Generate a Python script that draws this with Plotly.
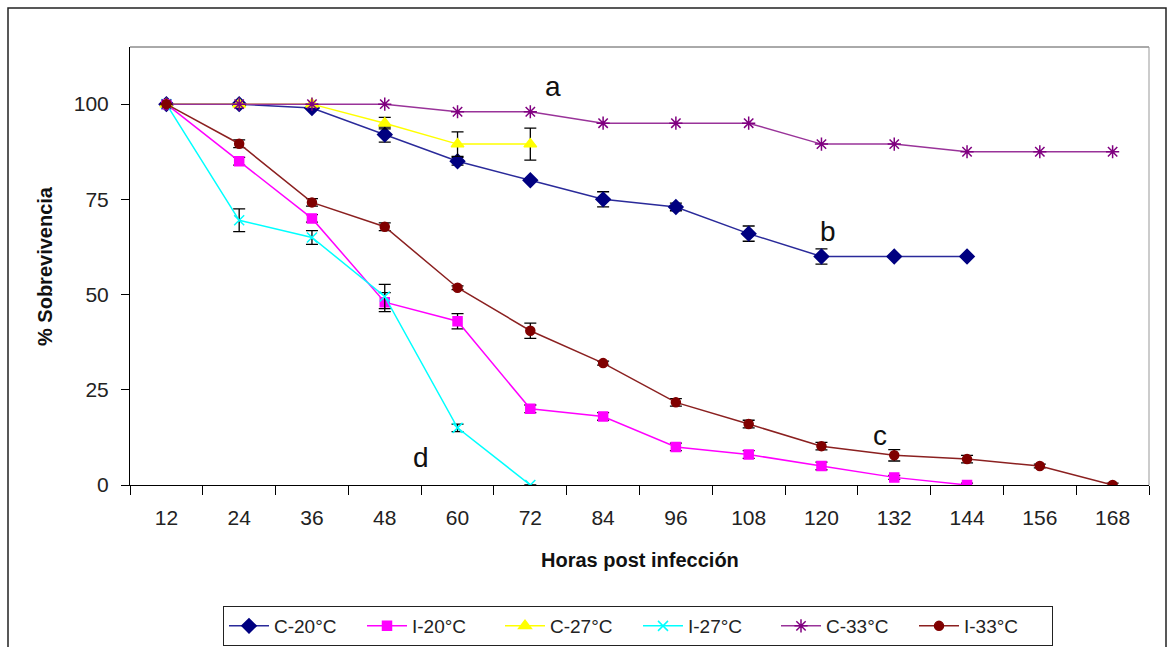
import plotly.graph_objects as go

hours = [12, 24, 36, 48, 60, 72, 84, 96, 108, 120, 132, 144, 156, 168]

c20 = [100, 100, 99, 92, 85, 80, 75, 73, 66, 60, 60, 60]
c20_err = [0, 0, 0, 2, 1, 0, 2, 1, 2, 2, 0, 0]

i20 = [100, 85, 70, 48, 43, 20, 18, 10, 8, 5, 2, 0]
i20_err = [0, 1, 1, 2.5, 2, 1, 1, 1, 1, 1, 0.5, 0.5]

c27 = [100, 100, 100, 95, 89.5, 89.5]
c27_err = [0, 0, 0, 1.5, 3.2, 4.2]

i27 = [100, 69.5, 65, 49.5, 15, 0]
i27_err = [0, 3, 1.8, 3.2, 1, 0]

c33 = [100, 100, 100, 100, 98, 98, 95, 95, 95, 89.5, 89.5, 87.5, 87.5, 87.5]

i33 = [100, 89.6, 74.2, 67.8, 51.8, 40.5, 32, 21.7, 16, 10.2, 7.8, 6.8, 5, 0]
i33_err = [0, 1, 1, 1, 0.5, 2, 0.5, 1, 1, 1, 1.5, 1, 0.5, 0.5]

series = [
    ("C-20°C", c20, c20_err, "#000080", "#2a2a9a", "diamond", 11),
    ("I-20°C", i20, i20_err, "#FF00FF", "#FF00FF", "square", 9),
    ("C-27°C", c27, c27_err, "#FFFF00", "#FFFF00", "triangle-up", 11),
    ("I-27°C", i27, i27_err, "#00FFFF", "#00FFFF", "x-thin-open", 10),
    ("C-33°C", c33, None, "#800080", "#993399", "asterisk-open", 11),
    ("I-33°C", i33, i33_err, "#800000", "#8b2020", "circle", 9),
]

fig = go.Figure()
for name, ys, err, mcol, lcol, sym, size in series:
    tr = dict(
        x=hours[:len(ys)], y=ys, name=name, mode="lines+markers",
        line=dict(color=lcol, width=1.5),
        marker=dict(symbol=sym, size=size, color=mcol,
                    line=dict(color=mcol, width=1.5)),
    )
    if err is not None:
        tr["error_y"] = dict(type="data", array=err, visible=True,
                             color="#000000", thickness=1.3, width=6)
    fig.add_trace(go.Scatter(**tr))

labels = [("a", 75.7, 104.5), ("b", 121, 66.6), ("c", 129.7, 13.1), ("d", 54, 7.3)]
for t, x, y in labels:
    fig.add_annotation(x=x, y=y, text=t, showarrow=False,
                       font=dict(size=28, color="#111", family="Liberation Sans"))

# axis titles
fig.add_annotation(x=0.5, y=0, xref="paper", yref="paper", yanchor="middle",
                   yshift=-75, text="<b>Horas post infección</b>", showarrow=False,
                   font=dict(size=20, color="#111", family="Liberation Sans"))
fig.add_annotation(x=0, y=0.5, xref="paper", yref="paper", xanchor="center",
                   xshift=-85, textangle=-90, text="<b>% Sobrevivencia</b>", showarrow=False,
                   font=dict(size=20, color="#111", family="Liberation Sans"))

W, H = 1169, 647
L, R, T, B = 130, 20, 47, 162
pw, ph = W - L - R, H - T - B
def px(x): return (x - L) / pw
def py(y): return (H - B - y) / ph

# plot area border (top/right) and outer frame
fig.add_shape(type="line", xref="paper", yref="paper", x0=0, x1=1, y0=1, y1=1,
              line=dict(color="#555", width=1))
fig.add_shape(type="line", xref="paper", yref="paper", x0=1, x1=1, y0=0, y1=1,
              line=dict(color="#999", width=1))
fig.add_shape(type="path", xref="paper", yref="paper",
              path=f"M {px(8)} {py(660)} L {px(8)} {py(8)} L {px(1166)} {py(8)} L {px(1166)} {py(660)}",
              line=dict(color="#222", width=1.5))

fig.update_layout(
    width=W, height=H,
    margin=dict(l=L, r=R, t=T, b=B, autoexpand=False),
    plot_bgcolor="white", paper_bgcolor="white",
    font=dict(family="Liberation Sans", size=15, color="#222"),
    showlegend=True,
    legend=dict(orientation="h", x=px(638), xanchor="center", y=py(606), yanchor="top",
                bordercolor="#222", borderwidth=1, bgcolor="white",
                font=dict(size=19, family="Liberation Sans", color="#222"),
                entrywidth=83, entrywidthmode="pixels", itemwidth=40,
                tracegroupgap=0),
    xaxis=dict(range=[6, 174], tickvals=hours, ticktext=[str(h) for h in hours],
               ticks="outside", ticklen=14, tickcolor="rgba(0,0,0,0)",
               showgrid=False, zeroline=False,
               showline=True, linecolor="#000", linewidth=1,
               tickfont=dict(size=21, color="#222"),
               minor=dict(tickvals=list(range(6, 175, 12)), ticks="outside",
                          ticklen=9, tickcolor="#000", showgrid=False)),
    yaxis=dict(range=[0, 115], tickvals=[0, 25, 50, 75, 100], ticks="outside",
               ticklen=8, tickcolor="#000", showgrid=False, zeroline=False,
               showline=True, linecolor="#000", linewidth=1,
               ticklabelstandoff=8,
               tickfont=dict(size=21, color="#222")),
)

fig.write_html("out.html")
